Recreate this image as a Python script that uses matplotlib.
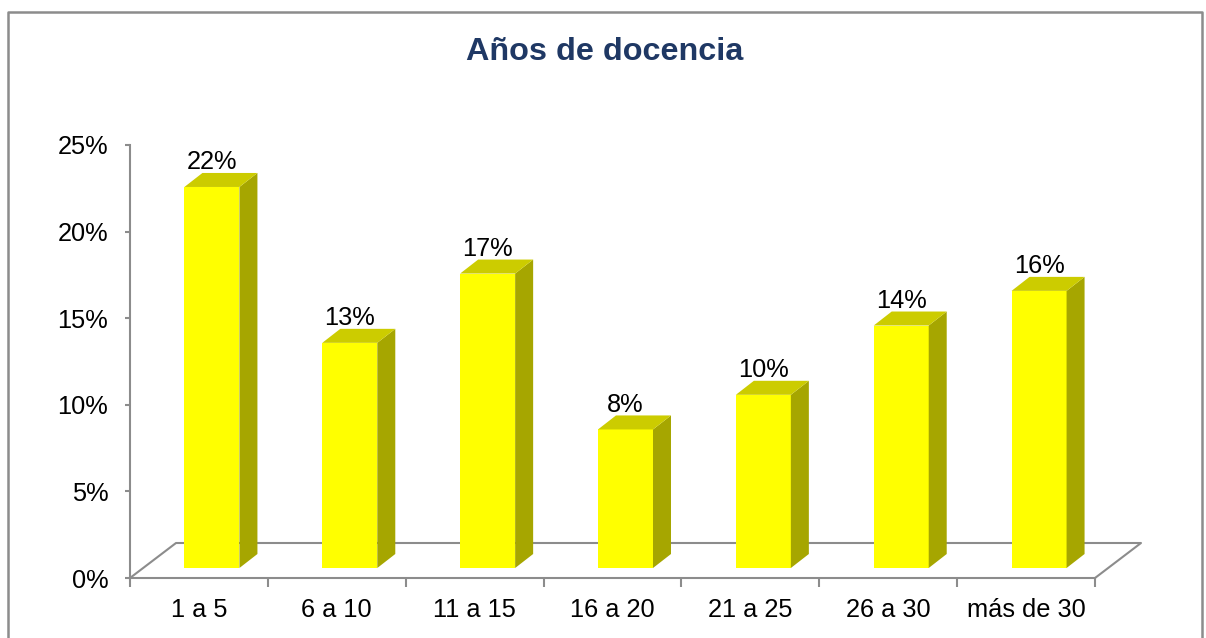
import matplotlib
matplotlib.use("Agg")
import matplotlib.pyplot as plt
from matplotlib.patches import Polygon
from matplotlib.lines import Line2D

categories = ["1 a 5", "6 a 10", "11 a 15", "16 a 20", "21 a 25", "26 a 30", "más de 30"]
values = [22, 13, 17, 8, 10, 14, 16]
y_ticks = [0, 5, 10, 15, 20, 25]
y_tick_labels = ["0%", "5%", "10%", "15%", "20%", "25%"]
title = "Años de docencia"

FRONT = "#FFFF00"
SIDE = "#A6A600"
TOP = "#CCCC00"
GRID = "#8C8C8C"
FS = 18.3

plt.rcParams['font.family'] = ['Liberation Sans', 'DejaVu Sans']

W, H = 1206, 638
fig = plt.figure(figsize=(W / 100, H / 100), dpi=100)
fig.patch.set_facecolor("white")

# axes placement (pixel geometry)
left_px, right_px, top_px, bot_px = 130, 1095, 145, 578
ax = fig.add_axes([left_px / W, (H - bot_px) / H, (right_px - left_px) / W, (bot_px - top_px) / H])
ax.set_xlim(-0.5, len(categories) - 0.5)
ax.set_ylim(0, 25)

xu = (right_px - left_px) / len(categories)   # px per x unit
yu = (bot_px - top_px) / 25.0                 # px per y unit

# 3D offsets in data units
bar_dx0, bar_dy0 = 13 / xu, 10 / yu
bar_w = 55 / xu
dep_x, dep_y = 18 / xu, 14 / yu
floor_x, floor_y = 46 / xu, 35 / yu

# floor
x0, x1 = -0.5, len(categories) - 0.5
ax.add_line(Line2D([x0, x0 + floor_x, x1 + floor_x, x1], [0, floor_y, floor_y, 0],
                   color=GRID, lw=1.5, clip_on=False, zorder=1))

for i, v in enumerate(values):
    xl = i + bar_dx0 - bar_w / 2
    xr = xl + bar_w
    b = bar_dy0
    t = bar_dy0 + v
    ax.bar(i + bar_dx0, v, width=bar_w, bottom=b, color=FRONT, edgecolor="none",
           zorder=3, clip_on=False)
    ax.add_patch(Polygon([(xr, b), (xr + dep_x, b + dep_y), (xr + dep_x, t + dep_y), (xr, t)],
                         closed=True, facecolor=SIDE, edgecolor="none", zorder=3, clip_on=False))
    ax.add_patch(Polygon([(xl, t), (xr, t), (xr + dep_x, t + dep_y), (xl + dep_x, t + dep_y)],
                         closed=True, facecolor=TOP, edgecolor="none", zorder=3, clip_on=False))
    ax.annotate(f"{v}%", (i + bar_dx0, t + dep_y), xytext=(0, 2.5), textcoords="offset points",
                ha="center", va="baseline", fontsize=FS, color="black", zorder=4,
                annotation_clip=False)

for s in ["top", "right"]:
    ax.spines[s].set_visible(False)
for s in ["left", "bottom"]:
    ax.spines[s].set_color(GRID)
    ax.spines[s].set_linewidth(1.5)
    ax.spines[s].set_zorder(2)

ax.set_yticks(y_ticks)
ax.set_yticklabels(y_tick_labels, fontsize=FS)
ax.tick_params(axis="y", length=3.6, width=1.5, color=GRID, pad=12)

ax.set_xticks(range(len(categories)))
ax.set_xticklabels(categories, fontsize=FS)
ax.set_xticks([k - 0.5 for k in range(len(categories) + 1)], minor=True)
ax.tick_params(axis="x", which="major", length=0, pad=14.5)
ax.tick_params(axis="x", which="minor", length=6.5, width=1.5, color=GRID)
ax.set_facecolor("none")

fig.text(605 / W, 1 - 52 / H, title, ha="center", va="center", fontsize=23.3,
         fontweight="bold", color="#1F3864")

# outer chart border
bx0, bx1, by0 = 8, 1202, 12
fig.add_artist(Line2D([bx0 / W, bx0 / W, bx1 / W, bx1 / W], [-0.05, 1 - by0 / H, 1 - by0 / H, -0.05],
                      transform=fig.transFigure, color=GRID, lw=1.8))

fig.savefig("out.png", dpi=100, facecolor="white")
